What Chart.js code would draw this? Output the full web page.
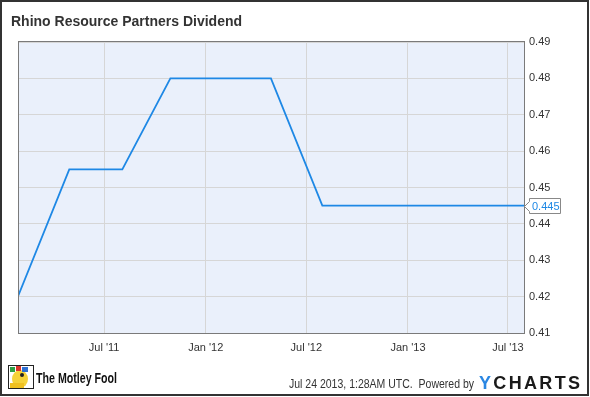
<!DOCTYPE html>
<html>
<head>
<meta charset="utf-8">
<script src="https://cdn.jsdelivr.net/npm/chart.js@4"></script>
<style>
html,body{margin:0;padding:0;background:#fff;}
#wrap{width:590px;height:397px;position:relative;}
canvas{display:block;}
</style>
</head>
<body>
<div id="wrap"><canvas id="c" width="590" height="397"></canvas></div>
<script>
// ---- data ----
const title = "Rhino Resource Partners Dividend";
const dates = ["2011-01-26","2011-04-29","2011-08-03","2011-10-29","2012-02-01","2012-04-28","2012-07-30","2012-10-30","2013-01-30","2013-04-29","2013-07-24","2013-07-31"];
const dividends = [0.42,0.455,0.455,0.48,0.48,0.48,0.445,0.445,0.445,0.445,0.445,0.445];
const tickDates = ["2011-07-01","2012-01-01","2012-07-01","2013-01-01","2013-07-01"];
const tickLabels = ["Jul '11","Jan '12","Jul '12","Jan '13","Jul '13"];
const yTicks = [0.41,0.42,0.43,0.44,0.45,0.46,0.47,0.48,0.49];
const xRange = ["2011-01-28","2013-07-30"];
const lastValueLabel = "0.445";
const footerText = "Jul 24 2013, 1:28AM UTC.  Powered by";

const toDay = s => Date.UTC(+s.slice(0,4), +s.slice(5,7)-1, +s.slice(8,10)) / 86400000;
const points = dates.map((d,i)=>({x:toDay(d), y:dividends[i]}));
const tickDays = tickDates.map(toDay);

const decor = {
  id:'decor',
  beforeDraw(chart){
    const {ctx, chartArea:a} = chart;
    ctx.save();
    ctx.fillStyle = '#fff';
    ctx.fillRect(0,0,590,397);
    ctx.fillStyle = '#eaf0fb';
    ctx.fillRect(a.left, a.top, a.right-a.left, a.bottom-a.top);
    ctx.restore();
  },
  afterDraw(chart){
    const {ctx, chartArea:a, scales} = chart;
    ctx.save();
    // plot frame
    ctx.strokeStyle = '#7a7a7a'; ctx.lineWidth = 1;
    ctx.strokeRect(a.left-0.5, a.top-0.5, a.right-a.left+1, a.bottom-a.top+1);
    // title
    ctx.fillStyle = '#333';
    ctx.font = 'bold 14px "Liberation Sans", Arial, sans-serif';
    ctx.textBaseline = 'alphabetic';
    ctx.fillText(title, 11, 26);
    // last value callout
    const yv = scales.y.getPixelForValue(parseFloat(lastValueLabel));
    const bx = 529, bw = 31, bh = 15;
    ctx.beginPath();
    ctx.moveTo(a.right+0.5, Math.round(yv)+0.5);
    ctx.lineTo(bx+0.5, Math.round(yv)-4.5);
    ctx.lineTo(bx+0.5, Math.round(yv)-bh/2);
    ctx.lineTo(bx+bw+0.5, Math.round(yv)-bh/2);
    ctx.lineTo(bx+bw+0.5, Math.round(yv)+bh/2);
    ctx.lineTo(bx+0.5, Math.round(yv)+bh/2);
    ctx.lineTo(bx+0.5, Math.round(yv)+5.5);
    ctx.closePath();
    ctx.fillStyle = '#fff'; ctx.fill();
    ctx.strokeStyle = '#888'; ctx.stroke();
    ctx.fillStyle = '#1e88e5';
    ctx.font = '11px "Liberation Sans", Arial, sans-serif';
    ctx.textBaseline = 'middle';
    ctx.fillText(lastValueLabel, bx+3, Math.round(yv)+1);
    // footer text
    ctx.fillStyle = '#333';
    ctx.font = '12px "Liberation Sans", Arial, sans-serif';
    ctx.textBaseline = 'alphabetic';
    let w = ctx.measureText(footerText).width;
    ctx.save(); ctx.translate(289, 388); ctx.scale(185/w, 1); ctx.fillText(footerText, 0, 0); ctx.restore();
    // YCHARTS logo text
    ctx.font = 'bold 18px "Liberation Sans", Arial, sans-serif';
    const letters = "YCHARTS".split('');
    const base = letters.reduce((s,ch)=>s+ctx.measureText(ch).width,0);
    const gap = (101 - base) / (letters.length-1);
    let x = 479;
    letters.forEach((ch,i)=>{
      ctx.fillStyle = i===0 ? '#2b87e3' : '#1a1a1a';
      ctx.fillText(ch, x, 389);
      x += ctx.measureText(ch).width + gap;
    });
    // Motley Fool logo
    ctx.fillStyle = '#fff'; ctx.fillRect(8,365,26,24);
    ctx.strokeStyle = '#222'; ctx.lineWidth = 1; ctx.strokeRect(8.5,365.5,25,23);
    ctx.fillStyle = '#f5d23a'; ctx.beginPath(); ctx.ellipse(20,379,8,9,0,0,Math.PI*2); ctx.fill();
    ctx.fillStyle = '#2f9e44'; ctx.fillRect(10,367,5,5);
    ctx.fillStyle = '#d9342b'; ctx.fillRect(16,366,5,5);
    ctx.fillStyle = '#2f6fd1'; ctx.fillRect(22,367,6,5);
    ctx.fillStyle = '#f0c020'; ctx.fillRect(10,383,14,5);
    ctx.fillStyle = '#222'; ctx.beginPath(); ctx.arc(22,375,2,0,Math.PI*2); ctx.fill();
    ctx.fillStyle = '#111';
    ctx.font = 'bold 14px "Liberation Sans", Arial, sans-serif';
    const mf = "The Motley Fool";
    w = ctx.measureText(mf).width;
    ctx.save(); ctx.translate(36, 383); ctx.scale(81/w, 1); ctx.fillText(mf, 0, 0); ctx.restore();
    // outer border
    ctx.strokeStyle = '#333'; ctx.lineWidth = 2;
    ctx.strokeRect(1, 1, 587, 394);
    ctx.restore();
  }
};

new Chart(document.getElementById('c'), {
  type:'line',
  data:{ datasets:[{ data:points, borderColor:'#1e88e5', borderWidth:1.8, pointRadius:0, tension:0, fill:false }] },
  options:{
    responsive:false, animation:false,
    layout:{ padding:{ left:19, top:42, right:0, bottom:0 } },
    plugins:{ legend:{display:false}, title:{display:false}, tooltip:{enabled:false} },
    scales:{
      x:{
        type:'linear', min:toDay(xRange[0]), max:toDay(xRange[1]),
        afterBuildTicks(s){ s.ticks = tickDays.map(v=>({value:v})); },
        afterFit(s){ s.height = 64; },
        grid:{ color:'#d6d6d6', drawTicks:false },
        border:{ display:false },
        ticks:{ padding:8, color:'#333', font:{ family:'"Liberation Sans", Arial, sans-serif', size:11 }, maxRotation:0, autoSkip:false,
          callback:(v)=>{ const i = tickDays.indexOf(v); return i>=0 ? tickLabels[i] : ''; } }
      },
      y:{
        position:'right', min:0.41, max:0.49,
        afterBuildTicks(s){ s.ticks = yTicks.map(v=>({value:v})); },
        afterFit(s){ s.width = 66; },
        grid:{ color:'#d6d6d6', drawTicks:false },
        border:{ display:false },
        ticks:{ padding:5, color:'#333', font:{ family:'"Liberation Sans", Arial, sans-serif', size:11 },
          callback:(v)=>v.toFixed(2) }
      }
    }
  },
  plugins:[decor]
});
</script>
</body>
</html>
